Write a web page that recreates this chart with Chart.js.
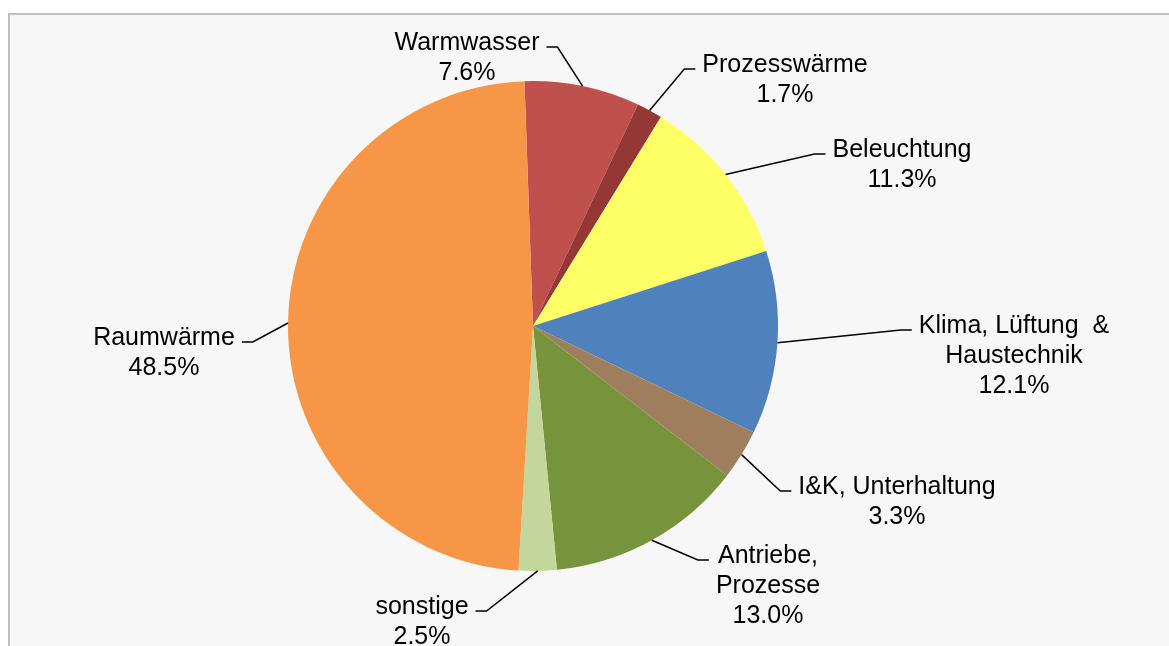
<!DOCTYPE html>
<html>
<head>
<meta charset="utf-8">
<script src="https://cdn.jsdelivr.net/npm/chart.js@4/dist/chart.umd.min.js"></script>
<style>
  html, body { margin: 0; padding: 0; background: #ffffff; overflow: hidden; width: 1169px; height: 646px; }
  #frame { position: absolute; left: 8px; top: 13px; width: 1180px; height: 660px; border: 2px solid #BFBFBF; background: #F7F7F7; }
  #c { position: absolute; left: 0; top: 0; }
</style>
</head>
<body>
<div id="frame"></div>
<canvas id="c" width="1169" height="646"></canvas>
<script>
// ---- data ----
const categories = ['Warmwasser', 'Prozesswärme', 'Beleuchtung', 'Klima, Lüftung & Haustechnik', 'I&K, Unterhaltung', 'Antriebe, Prozesse', 'sonstige', 'Raumwärme'];
const labelLines = [['Warmwasser'], ['Prozesswärme'], ['Beleuchtung'], ['Klima, Lüftung  &', 'Haustechnik'], ['I&K, Unterhaltung'], ['Antriebe,', 'Prozesse'], ['sonstige'], ['Raumwärme']];
const values = [7.6, 1.7, 11.3, 12.1, 3.3, 13.0, 2.5, 48.5];
const colors = ['#C0504D', '#953735', '#FFFF66', '#4F81BD', '#A07F5F', '#77933C', '#C3D69B', '#F79646'];

// ---- label layout (text centre x offset, first baseline y offset, relative to pie centre) ----
const labelOffsets = [[-66, -276], [252, -254], [369, -169], [481, 7], [364, 168], [235, 237], [-111, 288], [-369, 19]];

const FONT = '25px "Liberation Sans", Arial, sans-serif';
const LINE_H = 30;

const labelPlugin = {
  id: 'pieLabels',
  afterDatasetsDraw(chart) {
    const ctx = chart.ctx;
    const meta = chart.getDatasetMeta(0);
    ctx.save();
    ctx.font = FONT;
    ctx.fillStyle = '#000000';
    ctx.strokeStyle = '#000000';
    ctx.lineWidth = 1.5;
    meta.data.forEach((el, i) => {
      const cx = el.x, cy = el.y, R = el.outerRadius;
      const mid = (el.startAngle + el.endAngle) / 2;
      const px = cx + Math.cos(mid) * R;
      const py = cy + Math.sin(mid) * R;
      const lines = labelLines[i].concat([values[i].toFixed(1) + '%']);
      const tx = cx + labelOffsets[i][0];
      const ty = cy + labelOffsets[i][1];
      const w = Math.max(...lines.map(l => ctx.measureText(l).width));
      const ly = ty - 3;
      let ex, bx;
      if (px > tx) { ex = tx + w / 2 + 7; bx = ex + 11; }
      else { ex = tx - w / 2 - 7; bx = ex - 11; }
      ctx.beginPath();
      ctx.moveTo(px, py);
      ctx.lineTo(bx, ly);
      ctx.lineTo(ex, ly);
      ctx.stroke();
      ctx.textAlign = 'center';
      ctx.textBaseline = 'alphabetic';
      lines.forEach((l, k) => ctx.fillText(l, tx, ty + k * LINE_H));
    });
    ctx.restore();
  }
};

new Chart(document.getElementById('c'), {
  type: 'pie',
  data: {
    labels: categories,
    datasets: [{ data: values, backgroundColor: colors, borderWidth: 0 }]
  },
  options: {
    responsive: false,
    devicePixelRatio: 1,
    animation: false,
    rotation: -2,
    layout: { padding: { left: 288, right: 391, top: 81, bottom: 75 } },
    plugins: { legend: { display: false }, tooltip: { enabled: false } }
  },
  plugins: [labelPlugin]
});
</script>
</body>
</html>
